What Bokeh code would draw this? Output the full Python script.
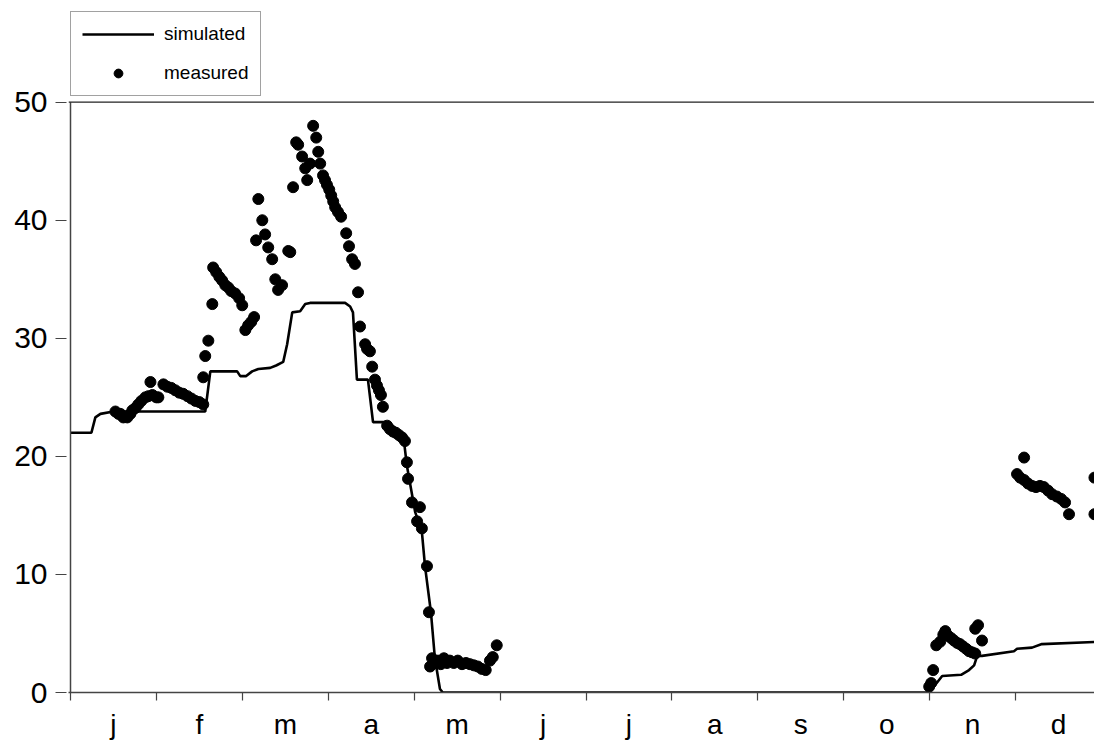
from bokeh.plotting import figure
from bokeh.models import Range1d, FixedTicker, Span, Legend, LegendItem, CustomJSTickFormatter
from bokeh.embed import file_html
from bokeh.resources import INLINE

# month labels (x axis)
months = ["j", "f", "m", "a", "m", "j", "j", "a", "s", "o", "n", "d"]
y_ticks = [0, 10, 20, 30, 40, 50]

# simulated series (day of year, value)
sim_day = [0, 7.4, 8.8, 10.6, 15.2, 47.7, 49.5, 59.0, 60.1, 62.2, 64.3, 66.5, 70.7, 72.8,
           75.3, 76.7, 78.5, 81.3, 83.1, 84.8, 97.2, 99.0, 100.0, 101.4, 105.3, 107.1,
           111.3, 116.6, 118.1, 119.1, 122.0, 124.4, 125.5, 127.6, 129.0, 130.8, 131.8,
           304.0, 308.6, 315.3, 318.1, 319.9, 321.0, 322.7, 334.0, 335.1, 340.4, 343.9, 365.0]
sim_val = [22.0, 22.0, 23.3, 23.6, 23.8, 23.8, 27.2, 27.2, 26.8, 26.8, 27.2, 27.4, 27.5, 27.7,
           28.0, 29.5, 32.2, 32.3, 32.9, 33.0, 33.0, 32.7, 32.2, 26.5, 26.5, 22.9,
           22.9, 21.7, 21.2, 19.2, 15.3, 13.6, 10.7, 6.8, 2.9, 0.3, 0.0,
           0.0, 1.4, 1.5, 1.9, 2.3, 3.1, 3.1, 3.5, 3.7, 3.8, 4.1, 4.3]

# measured series (day of year, value)
meas_day = [15.9, 17.0, 17.7, 18.7, 20.1, 21.2, 21.9, 23.0, 24.0, 25.1, 26.5, 27.6, 28.3, 29.0,
            30.4, 31.1, 32.9, 34.3, 35.7, 37.1, 38.5, 39.9, 41.4, 42.8, 44.2, 45.6, 47.0,
            47.0, 47.7, 48.8, 50.2, 50.5, 51.6, 52.7, 53.7, 54.8, 55.9, 56.9, 58.3, 59.7,
            60.8, 61.9, 62.9, 64.0, 65.0,
            65.7, 66.5, 67.9, 68.9, 70.0, 71.4, 72.5, 73.5, 74.9, 77.1, 77.8, 78.8, 79.9,
            80.6, 82.0, 83.1, 83.8, 84.8, 85.9, 87.0, 87.7, 88.4, 89.4, 90.1, 90.8, 91.6,
            92.3, 93.0, 93.7, 94.7, 95.8, 97.6, 98.6, 99.7, 100.7, 101.8, 102.5, 104.3,
            105.0, 106.0, 106.8, 107.8, 108.5, 109.2, 109.9, 110.6, 112.1, 113.1, 114.2,
            115.2, 116.3, 117.4, 118.4, 119.1, 119.5, 120.9, 123.7, 122.7, 124.4, 126.2,
            126.9, 127.3, 128.0, 129.0, 130.1, 131.1, 132.2, 133.3, 134.3, 135.7, 137.1,
            138.6, 140.0, 141.4, 142.8, 144.2, 145.6, 147.0, 148.5, 149.5, 150.9,
            304.0, 304.7, 305.4, 306.5, 307.9, 309.0, 309.7, 310.7, 311.8, 312.8, 313.9,
            314.9, 316.0, 317.1, 318.1, 319.2, 320.3, 320.3, 321.3, 322.7,
            335.1, 336.2, 337.6, 337.6, 339.0, 340.4, 341.8, 343.2, 344.6, 346.1, 347.5,
            349.2, 350.7, 352.1, 353.5, 362.5, 362.5]
meas_val = [23.8, 23.6, 23.6, 23.3, 23.3, 23.6, 23.9, 24.1, 24.4, 24.7, 25.0, 25.1, 26.3, 25.2,
            25.0, 25.0, 26.1, 25.9, 25.8, 25.6, 25.4, 25.3, 25.1, 24.9, 24.7, 24.6, 24.4,
            26.7, 28.5, 29.8, 32.9, 36.0, 35.6, 35.2, 34.9, 34.5, 34.3, 34.0, 33.8, 33.4,
            32.8, 30.7, 31.1, 31.4, 31.8,
            38.3, 41.8, 40.0, 38.8, 37.7, 36.7, 35.0, 34.1, 34.5, 37.4, 37.3, 42.8, 46.6,
            46.4, 45.4, 44.4, 43.4, 44.8, 48.0, 47.0, 45.8, 44.8, 43.8, 43.4, 43.0, 42.6,
            42.1, 41.6, 41.1, 40.7, 40.3, 38.9, 37.8, 36.7, 36.3, 33.9, 31.0, 29.5,
            29.1, 28.9, 27.6, 26.5, 26.0, 25.6, 25.2, 24.2, 22.6, 22.3, 22.1,
            22.0, 21.8, 21.6, 21.3, 19.5, 18.1, 16.1, 15.7, 14.5, 13.9, 10.7,
            6.8, 2.2, 2.9, 2.5, 2.7, 2.4, 2.9, 2.5, 2.7, 2.5, 2.7,
            2.4, 2.5, 2.4, 2.3, 2.2, 2.0, 1.9, 2.7, 3.0, 4.0,
            0.5, 0.8, 1.9, 4.0, 4.3, 4.9, 5.2, 4.8, 4.6, 4.4, 4.2,
            4.1, 3.9, 3.7, 3.5, 3.4, 3.3, 5.4, 5.7, 4.4,
            18.5, 18.2, 19.9, 18.0, 17.7, 17.5, 17.4, 17.5, 17.4, 17.1, 16.8,
            16.6, 16.4, 16.1, 15.1, 15.1, 18.2]

month_len = 365.0 / 12
boundaries = [k * month_len for k in range(13)]
mids = [(k + 0.5) * month_len for k in range(12)]

FONT = "Liberation Sans"
AXIS_COLOR = "#444444"

# frame: left 68 -> right 1094 (2.8247 px/day), top 0 -> bottom 694 (11.84 px/unit)
PX_DAY = 1031.0 / 365.0
x_start = -2.0 / PX_DAY
x_end = x_start + 1026.0 / PX_DAY
y_end = 694.0 / 11.84

p = figure(width=1094, height=742, output_backend="svg", toolbar_location=None,
           x_range=Range1d(x_start, x_end), y_range=Range1d(0, y_end),
           min_border_left=68, min_border_right=0, min_border_top=0, min_border_bottom=48)
p.outline_line_color = None
p.grid.visible = False
p.background_fill_color = "white"
p.border_fill_color = "white"

sim = p.line(sim_day, sim_val, line_color="black", line_width=2.6)
meas = p.scatter(meas_day, meas_val, size=11, color="black")

# frame lines: top line at 50 and left axis line from 0 to 50
p.add_layout(Span(location=50, dimension="width", line_color="#222222", line_width=1.2))
p.segment(x0=[0], y0=[0], x1=[0], y1=[y_ticks[-1]], line_color=AXIS_COLOR, line_width=1.5)

# x axis
xa = p.xaxis[0]
xa.ticker = FixedTicker(ticks=mids, minor_ticks=boundaries)
xa.formatter = CustomJSTickFormatter(args=dict(labels=months, mlen=month_len),
                                     code="return labels[Math.floor(tick / mlen)] || ''")
xa.major_tick_line_color = None
xa.major_tick_out = 0
xa.major_tick_in = 0
xa.minor_tick_out = 8
xa.minor_tick_in = 0
xa.minor_tick_line_color = AXIS_COLOR
xa.minor_tick_line_width = 1.2
xa.axis_line_color = AXIS_COLOR
xa.axis_line_width = 1.5
xa.major_label_text_font = FONT
xa.major_label_text_font_size = "28px"
xa.major_label_text_color = "black"
xa.major_label_standoff = 8

# y axis (own line hidden; ticks reach the 0 position)
ya = p.yaxis[0]
ya.ticker = FixedTicker(ticks=y_ticks)
ya.major_tick_out = 13
ya.major_tick_in = -2
ya.minor_tick_line_color = None
ya.major_tick_line_color = AXIS_COLOR
ya.major_tick_line_width = 1.2
ya.axis_line_color = None
ya.major_label_text_font = FONT
ya.major_label_text_font_size = "30px"
ya.major_label_text_color = "black"
ya.major_label_standoff = 8

legend = Legend(items=[LegendItem(label="simulated", renderers=[sim]),
                       LegendItem(label="measured", renderers=[meas])],
                location=(2, 596), margin=0, padding=11, spacing=17,
                glyph_width=72, glyph_height=22, label_height=22, label_standoff=10,
                label_text_font=FONT, label_text_font_size="19px", label_text_color="black",
                border_line_color=AXIS_COLOR, border_line_width=1.2,
                background_fill_color="white", background_fill_alpha=1.0)
p.add_layout(legend, "center")

open("out.html", "w").write(file_html(p, INLINE))
